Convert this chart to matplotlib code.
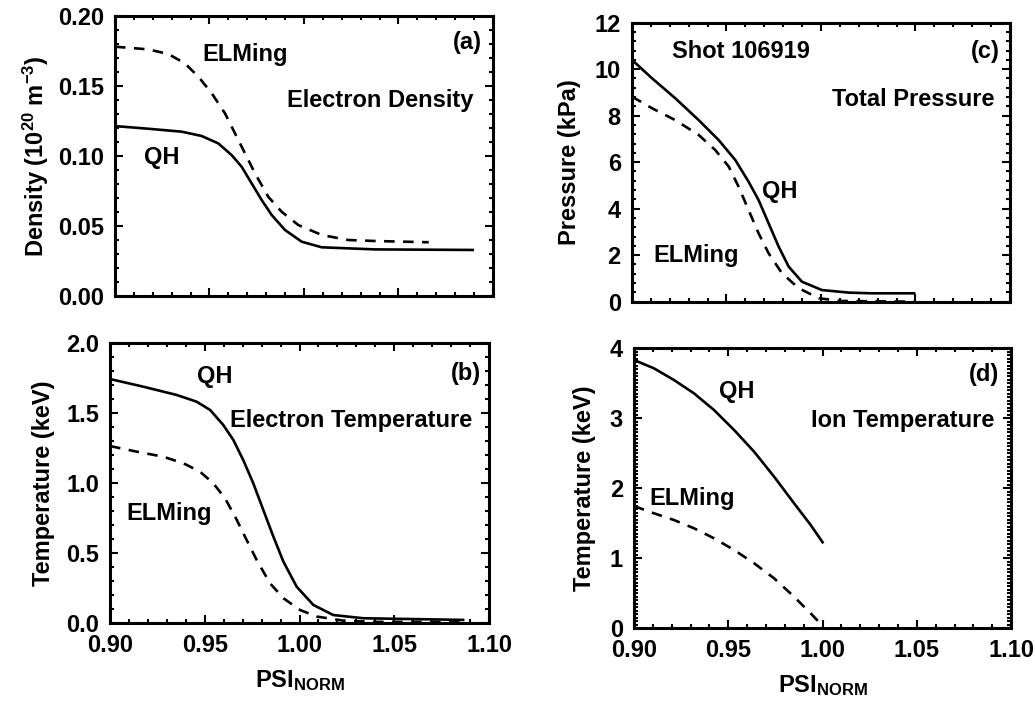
import matplotlib
matplotlib.use("Agg")
import matplotlib.pyplot as plt
from matplotlib.ticker import MultipleLocator, FormatStrFormatter

plt.rcParams['font.family'] = ['Liberation Sans', 'DejaVu Sans']
plt.rcParams['font.weight'] = 'bold'
plt.rcParams['mathtext.fontset'] = 'custom'
plt.rcParams['mathtext.rm'] = 'Liberation Sans:bold'
plt.rcParams['mathtext.default'] = 'rm'

# ---- data ----
# (a) Electron density
dens_qh_x = [0.900, 0.9176, 0.9353, 0.9459, 0.9547, 0.9617, 0.967, 0.9723, 0.9776,
             0.9829, 0.990, 0.9988, 1.0094, 1.0376, 1.090]
dens_qh_y = [0.1214, 0.1195, 0.1174, 0.1143, 0.1090, 0.1007, 0.0924, 0.0805, 0.0686,
             0.0579, 0.0471, 0.0388, 0.0348, 0.0333, 0.0329]
dens_elm_x = [0.900, 0.9176, 0.9282, 0.937, 0.9441, 0.9512, 0.9582, 0.9635, 0.9688,
              0.9741, 0.9811, 0.9882, 0.997, 1.0094, 1.0235, 1.0376, 1.066]
dens_elm_y = [0.1781, 0.1762, 0.1729, 0.1662, 0.1567, 0.1448, 0.1305, 0.1162, 0.1019,
              0.0876, 0.0709, 0.0602, 0.0507, 0.0436, 0.0400, 0.0393, 0.0384]

# (b) Electron temperature
te_qh_x = [0.900, 0.9176, 0.9352, 0.9457, 0.9528, 0.9598, 0.9651, 0.9703, 0.9756,
           0.9809, 0.9862, 0.9915, 0.9985, 1.0073, 1.0178, 1.0337, 1.087]
te_qh_y = [1.745, 1.690, 1.631, 1.583, 1.524, 1.416, 1.309, 1.166, 1.000,
           0.809, 0.619, 0.440, 0.261, 0.131, 0.059, 0.036, 0.024]
te_elm_x = [0.900, 0.9141, 0.9281, 0.9387, 0.9475, 0.9545, 0.9607, 0.9669, 0.9721,
            0.9774, 0.9844, 0.9915, 1.0003, 1.0091, 1.0231, 1.040, 1.087]
te_elm_y = [1.266, 1.226, 1.190, 1.143, 1.083, 1.000, 0.893, 0.738, 0.595,
            0.452, 0.286, 0.179, 0.095, 0.048, 0.019, 0.010, 0.010]

# (c) Total pressure
p_qh_x = [0.900, 0.9106, 0.9229, 0.9353, 0.9459, 0.9547, 0.9617, 0.967, 0.9723,
          0.9776, 0.9829, 0.9899, 1.0005, 1.0147, 1.027, 1.050]
p_qh_y = [10.40, 9.61, 8.75, 7.81, 6.95, 6.09, 5.16, 4.37, 3.37,
          2.37, 1.51, 0.86, 0.50, 0.39, 0.36, 0.36]
p_elm_x = [0.900, 0.9106, 0.9229, 0.9353, 0.9441, 0.9512, 0.9564, 0.9617, 0.967,
           0.9723, 0.9794, 0.9882, 0.9988, 1.010, 1.050]
p_elm_y = [8.82, 8.32, 7.81, 7.17, 6.52, 5.81, 4.95, 3.94, 2.94,
           2.08, 1.22, 0.58, 0.15, 0.03, 0.0]

# (d) Ion temperature
ti_qh_x = [0.900, 0.9106, 0.9212, 0.9318, 0.9424, 0.9531, 0.9637, 0.9743, 0.9849,
           0.9937, 1.0004]
ti_qh_y = [3.833, 3.714, 3.547, 3.357, 3.119, 2.833, 2.523, 2.166, 1.786,
           1.476, 1.214]
ti_elm_x = [0.900, 0.9106, 0.9212, 0.9318, 0.9424, 0.9531, 0.9637, 0.9743, 0.9849,
            0.9937, 1.0004]
ti_elm_y = [1.747, 1.643, 1.547, 1.429, 1.286, 1.119, 0.929, 0.714, 0.451,
            0.214, 0.023]

x_ticks = [0.90, 0.95, 1.00, 1.05, 1.10]

fig = plt.figure(figsize=(10.35, 7.07), dpi=100)

LW = 1.9
DASH = (0, (4.0, 3.2))
FS = 17


def style(ax, ymaj, ymin, fmt, show_x):
    ax.set_xlim(0.90, 1.10)
    ax.xaxis.set_major_locator(MultipleLocator(0.05))
    ax.xaxis.set_minor_locator(MultipleLocator(0.01))
    ax.yaxis.set_major_locator(MultipleLocator(ymaj))
    ax.yaxis.set_minor_locator(MultipleLocator(ymin))
    ax.yaxis.set_major_formatter(FormatStrFormatter(fmt))
    ax.xaxis.set_major_formatter(FormatStrFormatter('%.2f'))
    ax.tick_params(which='both', direction='in', top=True, right=True,
                   width=1.5, labelsize=FS, pad=8)
    ax.tick_params(which='major', length=6)
    ax.tick_params(which='minor', length=3)
    if not show_x:
        ax.tick_params(axis='x', labelbottom=False)
    for s in ax.spines.values():
        s.set_linewidth(2.2)
    for lab in ax.get_xticklabels() + ax.get_yticklabels():
        lab.set_fontweight('bold')


def txt(ax, x, y, s, ha='left'):
    ax.text(x, y, s, transform=ax.transAxes, ha=ha, va='center',
            fontsize=FS, fontweight='bold')


def curves(ax, xq, yq, xe, ye):
    ax.plot(xq, yq, color='black', lw=LW, solid_capstyle='butt')
    ax.plot(xe, ye, color='black', lw=LW, linestyle=DASH)


# (a)
axa = fig.add_axes([0.1111, 0.5813, 0.3652, 0.396])
curves(axa, dens_qh_x, dens_qh_y, dens_elm_x, dens_elm_y)
axa.set_ylim(0, 0.20)
style(axa, 0.05, 0.01, '%.2f', False)
axa.set_ylabel('Density (10$^{20}$ m$^{-3}$)', fontsize=FS, fontweight='bold', labelpad=5)
txt(axa, 0.971, 0.904, '(a)', 'right')
txt(axa, 0.230, 0.864, 'ELMing')
txt(axa, 0.947, 0.700, 'Electron Density', 'right')
txt(axa, 0.077, 0.493, 'QH')

# (c)
axc = fig.add_axes([0.6106, 0.5733, 0.3652, 0.3946])
curves(axc, p_qh_x, p_qh_y, p_elm_x, p_elm_y)
axc.set_ylim(0, 12)
style(axc, 2, 0.4, '%d', False)
axc.set_ylabel('Pressure (kPa)', fontsize=FS, fontweight='bold', labelpad=10)
txt(axc, 0.105, 0.896, 'Shot 106919')
txt(axc, 0.974, 0.895, '(c)', 'right')
txt(axc, 0.958, 0.723, 'Total Pressure', 'right')
txt(axc, 0.343, 0.394, 'QH')
txt(axc, 0.056, 0.167, 'ELMing')

# (b)
axb = fig.add_axes([0.1063, 0.1184, 0.3662, 0.396])
curves(axb, te_qh_x, te_qh_y, te_elm_x, te_elm_y)
axb.set_ylim(0, 2.0)
style(axb, 0.5, 0.1, '%.1f', True)
axb.set_xticks(x_ticks)
axb.set_ylabel('Temperature (keV)', fontsize=FS, fontweight='bold', labelpad=8)
axb.set_xlabel('PSI$_{\\mathrm{NORM}}$', fontsize=FS, fontweight='bold', labelpad=8)
txt(axb, 0.229, 0.881, 'QH')
txt(axb, 0.979, 0.893, '(b)', 'right')
txt(axb, 0.957, 0.726, 'Electron Temperature', 'right')
txt(axb, 0.042, 0.393, 'ELMing')

# (d)
axd = fig.add_axes([0.6126, 0.1113, 0.3643, 0.396])
curves(axd, ti_qh_x, ti_qh_y, ti_elm_x, ti_elm_y)
axd.set_ylim(0, 4)
style(axd, 1, 0.05, '%d', True)
axd.set_xticks(x_ticks)
axd.set_ylabel('Temperature (keV)', fontsize=FS, fontweight='bold', labelpad=10)
axd.set_xlabel('PSI$_{\\mathrm{NORM}}$', fontsize=FS, fontweight='bold', labelpad=8)
txt(axd, 0.969, 0.905, '(d)', 'right')
txt(axd, 0.224, 0.845, 'QH')
txt(axd, 0.955, 0.744, 'Ion Temperature', 'right')
txt(axd, 0.041, 0.464, 'ELMing')

fig.savefig('out.png', dpi=100)
